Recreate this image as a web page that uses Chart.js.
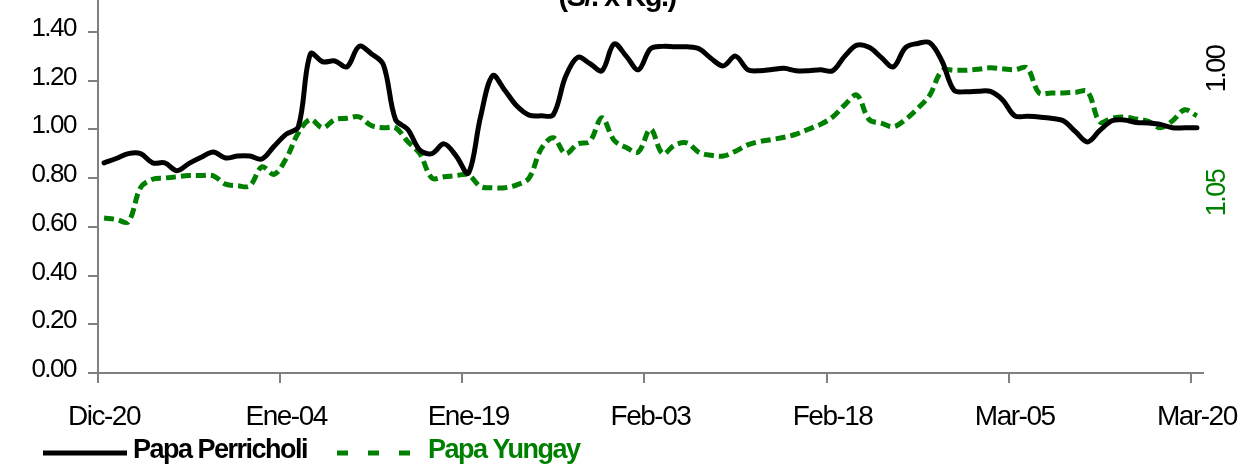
<!DOCTYPE html>
<html lang="es">
<head>
<meta charset="UTF-8">
<title>Papa Perricholi / Papa Yungay</title>
<script src="https://cdn.jsdelivr.net/npm/chart.js@4.4.0/dist/chart.umd.min.js"></script>
<style>
    html, body { margin: 0; padding: 0; background: #ffffff; overflow: hidden; }
    #wrap { position: relative; width: 1247px; height: 468px; overflow: hidden; }
    #chart { position: absolute; left: 0; top: -40px; }
</style>
</head>
<body>
<div id="wrap">
    <canvas id="chart" width="1247" height="508"></canvas>
</div>
<script>
// x axis: days since Dic-20, ticks every 15 days
const tickDays = [0, 15, 30, 45, 60, 75, 90];
const tickLabels = ['Dic-20', 'Ene-04', 'Ene-19', 'Feb-03', 'Feb-18', 'Mar-05', 'Mar-20'];

// daily prices (S/. x Kg.)
const perricholi = [
    0.862, 0.88, 0.90, 0.90, 0.862, 0.862, 0.83, 0.86, 0.885, 0.907,
    0.882, 0.89, 0.89, 0.878, 0.93, 0.98, 1.01, 1.31, 1.277, 1.28,
    1.256, 1.34, 1.31, 1.265, 1.04, 1.0, 0.915, 0.90, 0.94, 0.89,
    0.82, 1.05, 1.22, 1.16, 1.095, 1.058, 1.055, 1.06, 1.215, 1.295,
    1.27, 1.24, 1.35, 1.30, 1.244, 1.33, 1.34, 1.338, 1.338, 1.33,
    1.29, 1.26, 1.30, 1.245, 1.24, 1.245, 1.25, 1.24, 1.24, 1.244,
    1.24, 1.30, 1.345, 1.336, 1.295, 1.256, 1.335, 1.352, 1.355, 1.28,
    1.16, 1.154, 1.156, 1.155, 1.12, 1.055, 1.053, 1.05, 1.045, 1.035,
    0.99, 0.948, 0.995, 1.035, 1.038, 1.028, 1.026, 1.02, 1.006, 1.006,
    1.006
];
const yungay = [
    0.636, 0.63, 0.62, 0.76, 0.795, 0.80, 0.805, 0.81, 0.81, 0.809,
    0.775, 0.768, 0.768, 0.846, 0.815, 0.88, 0.985, 1.04, 1.006, 1.04,
    1.045, 1.051, 1.015, 1.006, 1.006, 0.95, 0.90, 0.80, 0.805, 0.81,
    0.813, 0.765, 0.76, 0.76, 0.772, 0.80, 0.92, 0.965, 0.90, 0.94,
    0.95, 1.047, 0.955, 0.925, 0.907, 1.0, 0.90, 0.935, 0.944, 0.905,
    0.893, 0.89, 0.91, 0.936, 0.95, 0.958, 0.967, 0.98, 1.0, 1.02,
    1.05, 1.10, 1.14, 1.04, 1.025, 1.01, 1.04, 1.085, 1.14, 1.24,
    1.242, 1.242, 1.246, 1.252, 1.248, 1.244, 1.252, 1.149, 1.149, 1.149,
    1.152, 1.154, 1.03, 1.045, 1.05, 1.042, 1.032, 1.006, 1.035, 1.08,
    1.055
];

const FONT = '"Liberation Sans", Arial, sans-serif';
const GREEN = '#008000';

const toPoints = arr => arr.map((v, i) => ({ x: i + 0.5, y: v }));

// the original uses a narrow face, squeeze the letters a bit
const squeeze = {
    id: 'squeeze',
    beforeDraw(chart) { chart.ctx.letterSpacing = '-1.5px'; }
};

// title, side labels and legend drawn on the canvas
const extras = {
    id: 'extras',
    afterDraw(chart) {
        const ctx = chart.ctx;
        ctx.save();
        ctx.letterSpacing = '-1.5px';
        ctx.fillStyle = '#000';
        ctx.font = 'bold 29px ' + FONT;
        ctx.textAlign = 'center';
        ctx.textBaseline = 'alphabetic';
        ctx.fillText('(S/. x Kg.)', 617, 46);

        // rotated labels at the right edge
        ctx.font = '27px ' + FONT;
        ctx.textBaseline = 'middle';
        ctx.save();
        ctx.translate(1218, 109);
        ctx.rotate(-Math.PI / 2);
        ctx.fillText('1.00', 0, 0);
        ctx.restore();
        ctx.save();
        ctx.translate(1218, 233);
        ctx.rotate(-Math.PI / 2);
        ctx.fillStyle = GREEN;
        ctx.fillText('1.05', 0, 0);
        ctx.restore();

        // legend
        ctx.lineWidth = 5;
        ctx.strokeStyle = '#000';
        ctx.beginPath();
        ctx.moveTo(43, 493);
        ctx.lineTo(127, 493);
        ctx.stroke();
        ctx.setLineDash([11, 20]);
        ctx.strokeStyle = GREEN;
        ctx.beginPath();
        ctx.moveTo(337, 493);
        ctx.lineTo(410, 493);
        ctx.stroke();
        ctx.setLineDash([]);
        ctx.font = 'bold 27px ' + FONT;
        ctx.textAlign = 'left';
        ctx.textBaseline = 'middle';
        ctx.fillStyle = '#000';
        ctx.fillText('Papa Perricholi', 133, 491);
        ctx.fillStyle = GREEN;
        ctx.fillText('Papa Yungay', 428, 491);
        ctx.restore();
    }
};

new Chart(document.getElementById('chart'), {
    type: 'line',
    data: {
        datasets: [{
            label: 'Papa Perricholi',
            data: toPoints(perricholi),
            borderColor: '#000',
            borderWidth: 5,
            pointRadius: 0,
            tension: 0.35,
            borderCapStyle: 'round'
        }, {
            label: 'Papa Yungay',
            data: toPoints(yungay),
            borderColor: GREEN,
            borderWidth: 5,
            borderDash: [10, 5],
            pointRadius: 0,
            tension: 0.35
        }]
    },
    options: {
        responsive: false,
        animation: false,
        layout: { padding: { left: 0, top: 23, right: 44, bottom: 0 } },
        plugins: {
            legend: { display: false },
            title: { display: false },
            tooltip: { enabled: false }
        },
        scales: {
            x: {
                type: 'linear',
                min: 0,
                max: 91,
                afterBuildTicks: s => { s.ticks = tickDays.map(v => ({ value: v })); },
                afterFit: s => { s.height = 95; s.paddingLeft = 0; s.paddingRight = 0; },
                border: { color: '#808080', width: 2 },
                grid: { drawOnChartArea: false, tickLength: 10, color: '#808080', lineWidth: 2 },
                ticks: {
                    color: '#000',
                    padding: 17,
                    labelOffset: 6,
                    maxRotation: 0,
                    autoSkip: false,
                    font: { family: FONT, size: 28 },
                    callback: v => tickLabels[tickDays.indexOf(v)] ?? ''
                }
            },
            y: {
                min: 0,
                max: 1.6,
                afterFit: s => { s.width = 98; s.paddingTop = 0; s.paddingBottom = 0; },
                border: { color: '#808080', width: 2 },
                grid: { drawOnChartArea: false, tickLength: 10, color: '#808080', lineWidth: 2 },
                ticks: {
                    stepSize: 0.2,
                    color: '#000',
                    padding: 12,
                    labelOffset: -3,
                    font: { family: FONT, size: 26 },
                    callback: v => v.toFixed(2)
                }
            }
        }
    },
    plugins: [squeeze, extras]
});
</script>
</body>
</html>
